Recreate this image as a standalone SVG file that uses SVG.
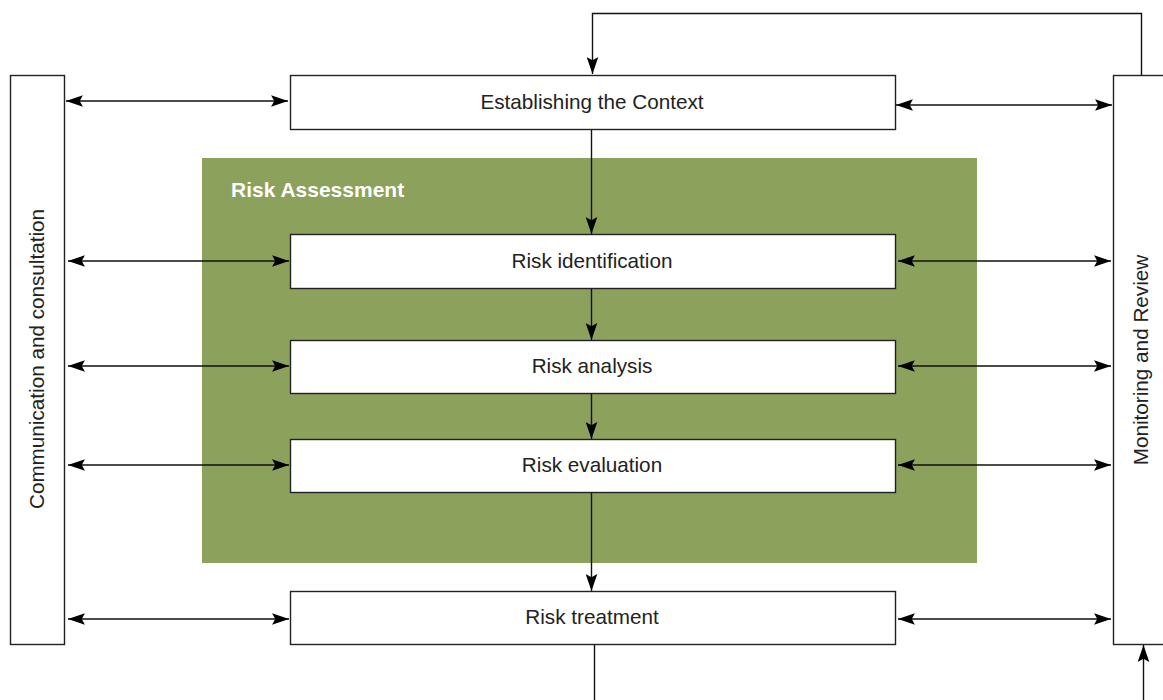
<svg xmlns="http://www.w3.org/2000/svg" width="1163" height="700" viewBox="0 0 1163 700">
<style>
.box{fill:#fff;stroke:#222;stroke-width:1.4}
.t{font-family:"Liberation Sans",Arial,sans-serif;font-size:20.7px;fill:#222;text-anchor:middle}
.c{fill:none;stroke:#111;stroke-width:1.4}
</style>
<defs>
<marker id="ah" markerUnits="userSpaceOnUse" markerWidth="18" markerHeight="12" refX="16" refY="5.5" orient="auto-start-reverse" viewBox="0 0 17 11">
<path d="M0,0 L16,5.5 L0,11 L3,5.5 z" fill="#000"/>
</marker>
</defs>
<rect x="0" y="0" width="1163" height="700" fill="#fff"/>
<g id="risk-assessment">
<rect x="202" y="158" width="775" height="405" fill="#8ca15c"/>
<text x="231" y="197" style="font-family:'Liberation Sans',Arial,sans-serif;font-size:21px;font-weight:bold;fill:#fff">Risk Assessment</text>
</g>
<g id="communication">
<rect class="box" x="10.5" y="75.5" width="54" height="569"/>
<text class="t" transform="translate(44,359) rotate(-90)">Communication and consultation</text>
</g>
<g id="monitoring">
<rect class="box" x="1113.5" y="75.5" width="60" height="569"/>
<text class="t" transform="translate(1148,360) rotate(-90)">Monitoring and Review</text>
</g>
<g id="context">
<rect class="box" x="290.5" y="75.5" width="605" height="54"/>
<text class="t" x="592" y="109">Establishing the Context</text>
</g>
<g id="identification">
<rect class="box" x="290.5" y="234.5" width="605" height="54"/>
<text class="t" x="592" y="268">Risk identification</text>
</g>
<g id="analysis">
<rect class="box" x="290.5" y="340.5" width="605" height="53"/>
<text class="t" x="592" y="373">Risk analysis</text>
</g>
<g id="evaluation">
<rect class="box" x="290.5" y="439.5" width="605" height="53"/>
<text class="t" x="592" y="472">Risk evaluation</text>
</g>
<g id="treatment">
<rect class="box" x="290.5" y="591.5" width="605" height="53"/>
<text class="t" x="592" y="624">Risk treatment</text>
</g>
<g id="connectors">
<line class="c" x1="591.5" y1="130" x2="591.5" y2="234" marker-end="url(#ah)"/>
<line class="c" x1="591.5" y1="289" x2="591.5" y2="340" marker-end="url(#ah)"/>
<line class="c" x1="591.5" y1="394" x2="591.5" y2="439" marker-end="url(#ah)"/>
<line class="c" x1="591.5" y1="493" x2="591.5" y2="591" marker-end="url(#ah)"/>
<polyline class="c" points="1141.5,75 1141.5,13.5 592.5,13.5 592.5,74" marker-end="url(#ah)"/>
<line class="c" x1="594.5" y1="645" x2="594.5" y2="700"/>
<line class="c" x1="1143.5" y1="700" x2="1143.5" y2="645" marker-end="url(#ah)"/>
<line class="c" x1="66" y1="101" x2="288" y2="101" marker-start="url(#ah)" marker-end="url(#ah)"/>
<line class="c" x1="68" y1="261" x2="289" y2="261" marker-start="url(#ah)" marker-end="url(#ah)"/>
<line class="c" x1="68" y1="366" x2="289" y2="366" marker-start="url(#ah)" marker-end="url(#ah)"/>
<line class="c" x1="68" y1="465" x2="289" y2="465" marker-start="url(#ah)" marker-end="url(#ah)"/>
<line class="c" x1="68" y1="619" x2="289" y2="619" marker-start="url(#ah)" marker-end="url(#ah)"/>
<line class="c" x1="896" y1="105" x2="1112" y2="105" marker-start="url(#ah)" marker-end="url(#ah)"/>
<line class="c" x1="898" y1="261" x2="1111" y2="261" marker-start="url(#ah)" marker-end="url(#ah)"/>
<line class="c" x1="898" y1="366" x2="1111" y2="366" marker-start="url(#ah)" marker-end="url(#ah)"/>
<line class="c" x1="898" y1="465" x2="1111" y2="465" marker-start="url(#ah)" marker-end="url(#ah)"/>
<line class="c" x1="898" y1="619" x2="1111" y2="619" marker-start="url(#ah)" marker-end="url(#ah)"/>
</g>
</svg>
